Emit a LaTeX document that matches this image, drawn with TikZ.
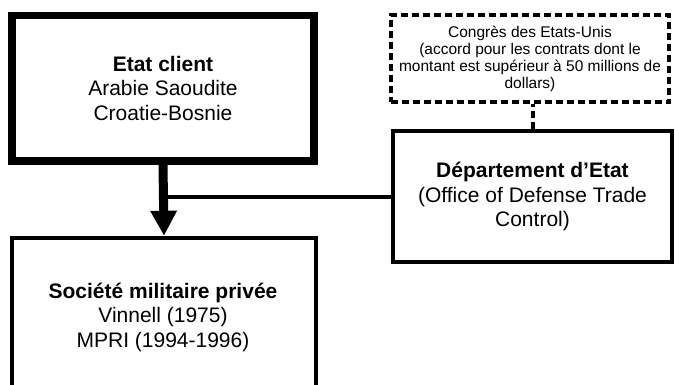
\documentclass[tikz,border=0pt]{standalone}
\usepackage{fontspec}
\setmainfont{Liberation Sans}
\usetikzlibrary{arrows.meta}
\begin{document}
\begin{tikzpicture}[x=1pt,y=1pt,
  box/.style={draw,line width=4.5pt,minimum width=#1,inner sep=0pt},
  bigtext/.style={align=center,font=\fontsize{21}{24.5}\selectfont},
  smalltext/.style={align=center,font=\fontsize{15.5}{17}\selectfont}]
\useasboundingbox (0,0) rectangle (675,384);
\clip (0,0) rectangle (675,384);
\node[box=302pt,line width=7.5pt,minimum height=145.5pt,bigtext] (client) at (163,295.75)
  {\textbf{Etat client}\\Arabie Saoudite\\Croatie-Bosnie};
\node[box=304pt,minimum height=182pt] (soc) at (164,55) {};
\node[bigtext] (soctext) at (163,67) {\textbf{Société militaire privée}\\Vinnell (1975)\\MPRI (1994-1996)};
\node[box=279pt,minimum height=131pt,bigtext] (dep) at (532.5,187.5)
  {\textbf{Département d’Etat}\\(Office of Defense Trade\\Control)};
\node[box=278.5pt,line width=4pt,dash pattern=on 7pt off 4pt,minimum height=87pt,smalltext] (cong) at (530,325.5)
  {Congrès des Etats-Unis\\(accord pour les contrats dont le\\montant est supérieur à 50 millions de\\dollars)};
\draw[line width=9pt,-{Triangle[width=25pt,length=25pt]}] (client.south) -- (soc.north);
\draw[line width=4pt] (dep.west) -- (client.south |- dep.west);
\draw[line width=4pt,dash pattern=on 7pt off 4pt] (dep.north) -- (dep.north |- cong.south);
\end{tikzpicture}
\end{document}
